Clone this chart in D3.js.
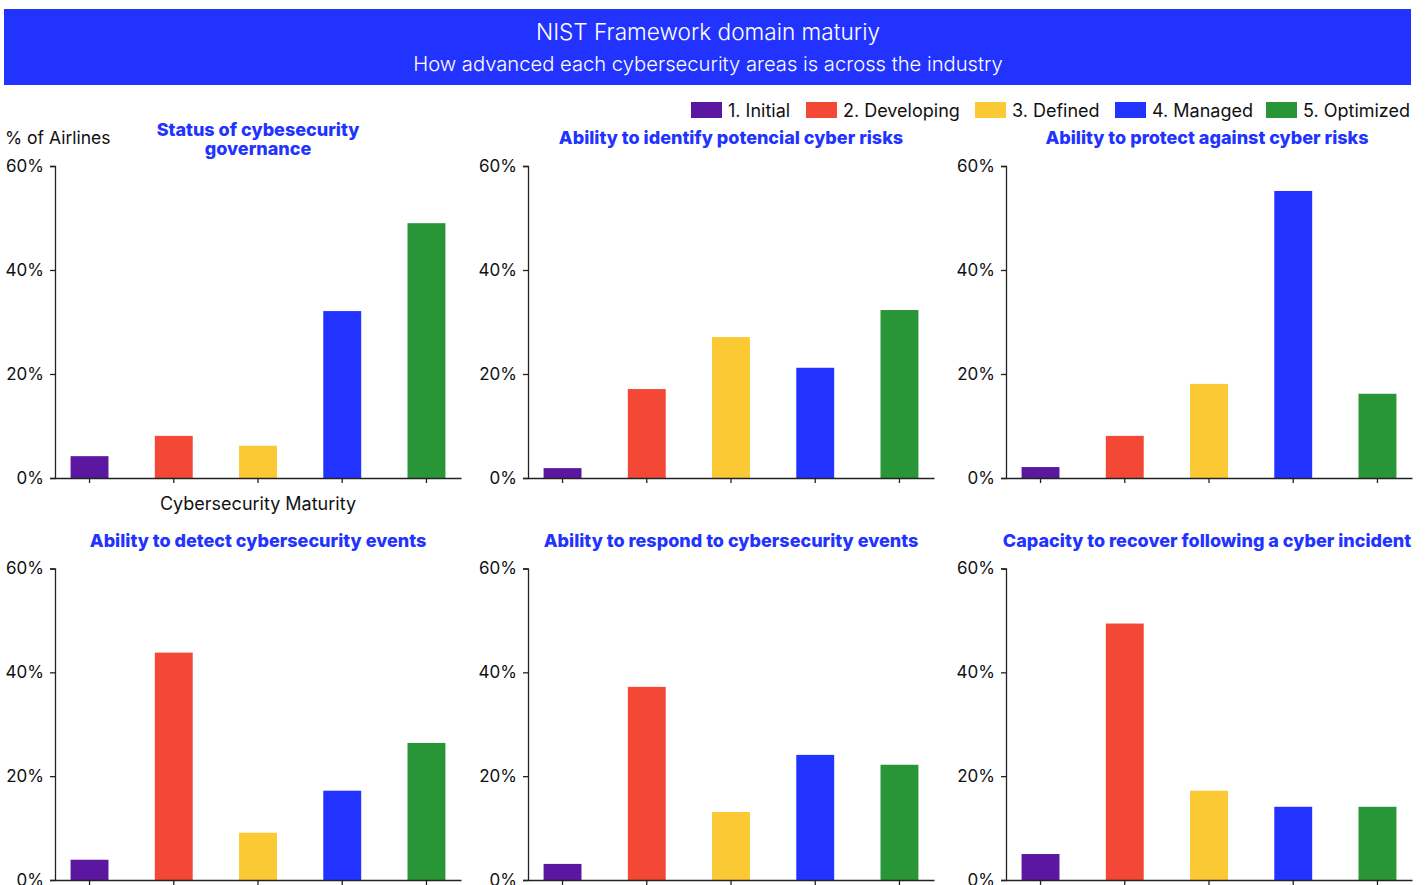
<!DOCTYPE html>
<html>
<head>
<meta charset="utf-8">
<script src="https://cdn.jsdelivr.net/npm/d3@7"></script>
<style>
  html, body { margin: 0; padding: 0; background: #fff; }
  svg { display: block; font-family: Inter, "Noto Sans", sans-serif; }
</style>
</head>
<body>
<svg id="chart" width="1427" height="885"></svg>
<script>
// Maturity levels (x categories) and their colours
const levels = ["1. Initial", "2. Developing", "3. Defined", "4. Managed", "5. Optimized"];
const levelColors = ["#5b17a0", "#f24835", "#fbc933", "#2233ff", "#289636"];

// Domain titles
const domains = [
  ["Status of cybesecurity", "governance"],
  ["Ability to identify potencial cyber risks"],
  ["Ability to protect against cyber risks"],
  ["Ability to detect cybersecurity events"],
  ["Ability to respond to cybersecurity events"],
  ["Capacity to recover following a cyber incident"]
];

// Share of airlines (%) per maturity level, one array per domain
const governance = [4.2, 8.1, 6.2, 32.1, 49.0];
const identify   = [1.9, 17.1, 27.1, 21.2, 32.3];
const protect    = [2.1, 8.1, 18.1, 55.2, 16.2];
const detect     = [3.9, 43.8, 9.1, 17.2, 26.4];
const respond    = [3.1, 37.2, 13.1, 24.1, 22.2];
const recover    = [5.0, 49.4, 17.2, 14.1, 14.1];
const domainValues = [governance, identify, protect, detect, respond, recover];

// Y axis ticks
const yTicks = [0, 20, 40, 60];

const svg = d3.select("#chart");
const headerBlue = "#2233ff";

// Header band
svg.append("rect").attr("x", 4).attr("y", 9).attr("width", 1407).attr("height", 76).attr("fill", headerBlue);
svg.append("text").attr("x", 708).attr("y", 40).attr("text-anchor", "middle")
  .attr("fill", "#fff").attr("font-size", 22.6).attr("font-weight", 300)
  .text("NIST Framework domain maturiy");
svg.append("text").attr("x", 708).attr("y", 71).attr("text-anchor", "middle")
  .attr("fill", "#fff").attr("font-size", 20.2).attr("font-weight", 300)
  .text("How advanced each cybersecurity areas is across the industry");

// Legend
const legendX = [691, 806, 975, 1115, 1266];
const legend = svg.append("g");
levels.forEach((lv, i) => {
  legend.append("rect").attr("x", legendX[i]).attr("y", 102).attr("width", 31).attr("height", 16).attr("fill", levelColors[i]);
  legend.append("text").attr("x", legendX[i] + 37).attr("y", 116.5)
    .attr("font-size", 18).attr("fill", "#111").text(lv);
});

// Panel geometry
const colX = [[55, 461], [528, 934], [1006, 1412]];
const titleCx = [258, 731, 1207];
const rowY = [[478, 166], [880, 568.5]];
const titleY = [138, 541];

const x = d3.scaleBand().domain(levels).paddingInner(0.55).paddingOuter(0.185);
const y = d3.scaleLinear().domain([0, 60]);

domainValues.forEach((vals, k) => {
  const c = k % 3, r = Math.floor(k / 3);
  const [x0, x1] = colX[c];
  const [yb, yt] = rowY[r];
  const xs = x.copy().range([x0, x1]);
  const ys = y.copy().range([yb, yt]);
  const g = svg.append("g");

  // Bars
  g.selectAll("rect.bar").data(vals).join("rect")
    .attr("class", "bar")
    .attr("x", (d, i) => xs(levels[i]))
    .attr("width", xs.bandwidth())
    .attr("y", d => ys(d))
    .attr("height", d => yb - ys(d))
    .attr("fill", (d, i) => levelColors[i]);

  // Y axis
  const ya = g.append("g").attr("transform", `translate(${x0},0)`)
    .call(d3.axisLeft(ys).tickValues(yTicks).tickFormat(d => d + "%").tickSize(5).tickPadding(6));
  ya.select(".domain").attr("stroke", "#222").attr("stroke-width", 1.3);
  ya.selectAll(".tick line").attr("stroke", "#222").attr("stroke-width", 1.3);
  ya.selectAll(".tick text").attr("font-size", 17).attr("fill", "#111")
    .attr("font-family", "Inter, sans-serif");

  // X axis
  const xa = g.append("g").attr("transform", `translate(0,${yb})`)
    .call(d3.axisBottom(xs).tickSize(5).tickSizeOuter(0).tickFormat(""));
  xa.select(".domain").attr("stroke", "#222").attr("stroke-width", 1.3);
  xa.selectAll(".tick line").attr("stroke", "#222").attr("stroke-width", 1.3);

  // Panel title
  const cx = titleCx[c];
  const lines = domains[k];
  const t = g.append("text").attr("text-anchor", "middle")
    .attr("fill", headerBlue).attr("font-size", 18).attr("font-weight", 800);
  if (lines.length === 2) {
    lines.forEach((ln, j) => t.append("tspan").attr("x", cx).attr("y", 136 + j * 19).text(ln));
  } else {
    t.attr("x", cx).attr("y", titleY[r] + 6).text(lines[0]);
  }
});

// Axis captions for the first panel
svg.append("text").attr("x", 5).attr("y", 144).attr("font-size", 17.5).attr("fill", "#111").text("% of Airlines");
svg.append("text").attr("x", 258).attr("y", 510).attr("text-anchor", "middle")
  .attr("font-size", 18).attr("fill", "#111").text("Cybersecurity Maturity");
</script>
</body>
</html>
